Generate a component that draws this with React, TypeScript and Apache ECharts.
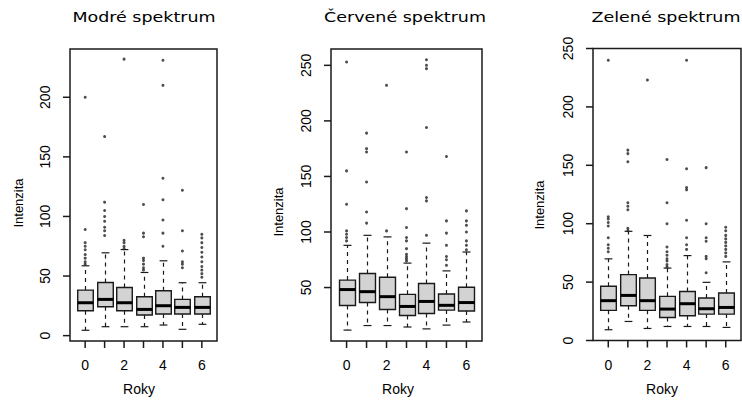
import React, { useEffect, useRef } from "react";
import * as echarts from "echarts";

// ---------- data ----------
const years = [0, 1, 2, 3, 4, 5, 6];
const xTickValues = [0, 1, 2, 3, 4, 5, 6];
const xLabelValues = [0, 2, 4, 6];

const titles = ["Modré spektrum", "Červené spektrum", "Zelené spektrum"];
const xAxisName = "Roky";
const yAxisName = "Intenzita";

// Modré spektrum
const blueLow = [4.5, 7.5, 7.5, 7.5, 8.9, 5.3, 9.5];
const blueQ1 = [20.9, 24.3, 20.9, 17.3, 18.1, 18.1, 18.1];
const blueMed = [27.6, 30.4, 27.6, 22.0, 25.1, 23.7, 23.7];
const blueQ3 = [38.2, 44.6, 40.4, 32.6, 37.7, 30.4, 32.6];
const blueHigh = [58.6, 69.5, 72.2, 53.0, 62.8, 44.4, 44.4];
const blueOutliers = [
  [60, 62, 65, 68, 72, 75, 78, 89, 200],
  [84, 88, 91, 96, 100, 105, 112, 167],
  [73, 75, 78, 80, 232],
  [55, 57, 60, 63, 65, 83, 86, 110],
  [75, 86, 97, 114, 132, 210, 231],
  [57, 60, 62, 71, 88, 122],
  [49, 52, 55, 58, 62, 66, 70, 74, 78, 82, 85],
];
const blueTicks = [0, 50, 100, 150, 200];

// Červené spektrum
const redLow = [11.7, 15.8, 15.8, 14.5, 12.8, 16.2, 19.0];
const redQ1 = [33.8, 36.6, 30.3, 24.8, 26.7, 29.7, 28.9];
const redMed = [48.2, 46.3, 41.8, 33.0, 37.5, 34.0, 36.5];
const redQ3 = [56.7, 62.7, 59.3, 43.9, 53.7, 44.2, 50.3];
const redHigh = [88, 97, 95.6, 72, 90, 65, 82];
const redOutliers = [
  [92, 95, 98, 101, 125, 155, 253],
  [108, 118, 145, 172, 175, 189],
  [101, 232],
  [74, 76, 78, 80, 85, 92, 95, 104, 121, 172],
  [97, 128, 131, 194, 247, 250, 255],
  [70, 75, 78, 88, 99, 110, 168],
  [84, 88, 92, 100, 106, 110, 119],
];
const redTicks = [50, 100, 150, 200, 250];

// Zelené spektrum
const greenLow = [9.2, 16.3, 10.3, 12.0, 12.0, 12.0, 11.2];
const greenQ1 = [25.8, 29.8, 25.8, 19.7, 21.2, 22.6, 22.6];
const greenMed = [34.1, 38.6, 34.1, 26.9, 31.5, 27.2, 28.3];
const greenQ3 = [46.4, 56.4, 53.5, 37.8, 42.0, 36.4, 40.7];
const greenHigh = [69.9, 93.5, 89.9, 62.0, 72.7, 49.8, 67.3];
const greenOutliers = [
  [76, 79, 82, 88, 98, 101, 104, 106, 240],
  [94, 96, 112, 115, 118, 153, 160, 163],
  [223],
  [63, 65, 68, 70, 73, 76, 80, 100, 118, 155],
  [78, 82, 88, 103, 129, 131, 147, 240],
  [58, 70, 72, 85, 88, 100, 148],
  [72, 75, 78, 81, 84, 87, 90, 94, 97],
];
const greenTicks = [0, 50, 100, 150, 200, 250];

// ---------- layout ----------
const X_MIN = -0.78;
const X_MAX = 6.78;
const TICK_LEN = 7;

// frame = plot box; the grid extends TICK_LEN px left of and below it to hold the tick marks
const panels = [
  {
    frame: { left: 70, top: 49, width: 147, height: 292 },
    yMin: -4.5, yMax: 240.5,
    low: blueLow, q1: blueQ1, med: blueMed, q3: blueQ3, high: blueHigh,
    outliers: blueOutliers, ticks: blueTicks,
    titleX: 144, xNameX: 139, yNameX: 18, yNameY: 203,
  },
  {
    frame: { left: 331, top: 49, width: 151, height: 292 },
    yMin: 1.9, yMax: 264.7,
    low: redLow, q1: redQ1, med: redMed, q3: redQ3, high: redHigh,
    outliers: redOutliers, ticks: redTicks,
    titleX: 405, xNameX: 398, yNameX: 278, yNameY: 212,
  },
  {
    frame: { left: 593, top: 48.5, width: 148, height: 292 },
    yMin: 0, yMax: 250,
    low: greenLow, q1: greenQ1, med: greenMed, q3: greenQ3, high: greenHigh,
    outliers: greenOutliers, ticks: greenTicks,
    titleX: 666, xNameX: 662, yNameX: 539, yNameY: 205,
  },
];

const FONT = "'Liberation Sans', Arial, sans-serif";
const LINE = "#1a1a1a";

function renderBox(params: any, api: any) {
  const x = api.value(0);
  const pLow = api.coord([x, api.value(1)]);
  const pQ1 = api.coord([x, api.value(2)]);
  const pMed = api.coord([x, api.value(3)]);
  const pQ3 = api.coord([x, api.value(4)]);
  const pHigh = api.coord([x, api.value(5)]);
  const hw = api.size([0.4, 0])[0];
  const cw = api.size([0.2, 0])[0];
  const cx = Math.round(pMed[0]) + 0.5;
  const solid = { stroke: LINE, lineWidth: 1.2, fill: null };
  const dashed = { stroke: LINE, lineWidth: 1.2, lineDash: [4, 4], fill: null };
  return {
    type: "group",
    children: [
      { type: "line", shape: { x1: cx, y1: pQ3[1], x2: cx, y2: pHigh[1] }, style: dashed },
      { type: "line", shape: { x1: cx, y1: pQ1[1], x2: cx, y2: pLow[1] }, style: dashed },
      { type: "line", shape: { x1: cx - cw, y1: pHigh[1], x2: cx + cw, y2: pHigh[1] }, style: solid },
      { type: "line", shape: { x1: cx - cw, y1: pLow[1], x2: cx + cw, y2: pLow[1] }, style: solid },
      {
        type: "rect",
        shape: { x: cx - hw, y: pQ3[1], width: 2 * hw, height: pQ1[1] - pQ3[1] },
        style: { fill: "#d3d3d3", stroke: LINE, lineWidth: 1.4 },
      },
      { type: "line", shape: { x1: cx - hw, y1: pMed[1], x2: cx + hw, y2: pMed[1] }, style: { stroke: "#000", lineWidth: 3 } },
    ],
  };
}

// plot frame from the axis extents [xMin, yMin, xMax, yMax]
function renderFrame(params: any, api: any) {
  const p1 = api.coord([api.value(0), api.value(1)]);
  const p2 = api.coord([api.value(2), api.value(3)]);
  return {
    type: "rect",
    shape: { x: p1[0], y: p2[1], width: p2[0] - p1[0], height: p1[1] - p2[1] },
    style: { fill: null, stroke: LINE, lineWidth: 1.5 },
  };
}

function renderYTick(params: any, api: any) {
  const pt = api.coord([api.value(0), api.value(1)]);
  return {
    type: "line",
    shape: { x1: pt[0], y1: pt[1], x2: pt[0] - TICK_LEN, y2: pt[1] },
    style: { stroke: LINE, lineWidth: 1.5, fill: null },
  };
}

function renderXTick(params: any, api: any) {
  const pt = api.coord([api.value(0), api.value(1)]);
  return {
    type: "line",
    shape: { x1: pt[0], y1: pt[1], x2: pt[0], y2: pt[1] + TICK_LEN },
    style: { stroke: LINE, lineWidth: 1.5, fill: null },
  };
}

export default function App() {
  const ref = useRef<HTMLDivElement>(null);
  useEffect(() => {
    if (!ref.current) return;
    const chart = echarts.init(ref.current, undefined, { renderer: "svg" });

    const grids: any[] = [];
    const xAxes: any[] = [];
    const yAxes: any[] = [];
    const series: any[] = [];
    const graphics: any[] = [];

    panels.forEach((p, i) => {
      const f = p.frame;
      const kx = (X_MAX - X_MIN) / f.width;
      const ky = (p.yMax - p.yMin) / f.height;
      grids.push({
        left: f.left - TICK_LEN, top: f.top,
        width: f.width + TICK_LEN, height: f.height + TICK_LEN,
        show: false, containLabel: false,
      });
      xAxes.push({
        type: "value", gridIndex: i, min: X_MIN - TICK_LEN * kx, max: X_MAX, position: "bottom",
        axisLine: { show: false, onZero: false },
        splitLine: { show: false },
        axisTick: { show: false },
        axisLabel: {
          customValues: xLabelValues, margin: 10, color: "#000",
          fontFamily: FONT, fontSize: 14,
        },
      });
      yAxes.push({
        type: "value", gridIndex: i, min: p.yMin - TICK_LEN * ky, max: p.yMax, position: "left",
        axisLine: { show: false, onZero: false },
        splitLine: { show: false },
        axisTick: { show: false },
        axisLabel: {
          customValues: p.ticks, rotate: 90, margin: 11, color: "#000",
          fontFamily: FONT, fontSize: 14,
        },
      });
      series.push({
        type: "custom", xAxisIndex: i, yAxisIndex: i,
        renderItem: renderFrame,
        encode: { x: [0, 2], y: [1, 3] },
        data: [[X_MIN, p.yMin, X_MAX, p.yMax]],
        z: 5,
      });
      series.push({
        type: "custom", xAxisIndex: i, yAxisIndex: i,
        renderItem: renderBox,
        encode: { x: 0, y: [1, 2, 3, 4, 5] },
        data: years.map((yr, j) => [yr, p.low[j], p.q1[j], p.med[j], p.q3[j], p.high[j]]),
        z: 2,
      });
      series.push({
        type: "custom", xAxisIndex: i, yAxisIndex: i,
        renderItem: renderYTick,
        encode: { x: 0, y: 1 },
        data: p.ticks.map((v) => [X_MIN, v]),
        z: 5,
      });
      series.push({
        type: "custom", xAxisIndex: i, yAxisIndex: i,
        renderItem: renderXTick,
        encode: { x: 0, y: 1 },
        data: xTickValues.map((v) => [v, p.yMin]),
        z: 5,
      });
      const pts: number[][] = [];
      years.forEach((yr, j) => p.outliers[j].forEach((v) => pts.push([yr, v])));
      series.push({
        type: "scatter", xAxisIndex: i, yAxisIndex: i,
        data: pts, symbol: "circle", symbolSize: 3,
        itemStyle: { color: "#222" }, z: 3,
      });
      graphics.push({
        type: "text", x: p.titleX, y: 17, scaleX: 1.25,
        style: { text: titles[i], fontFamily: "'DejaVu Sans', sans-serif", fontSize: 14, fill: "#000", textAlign: "center", textVerticalAlign: "middle" },
      });
      graphics.push({
        type: "text", x: p.xNameX, y: 389,
        style: { text: xAxisName, fontFamily: FONT, fontSize: 14, fill: "#000", textAlign: "center", textVerticalAlign: "middle" },
      });
      graphics.push({
        type: "text", x: p.yNameX, y: p.yNameY, rotation: Math.PI / 2,
        style: { text: yAxisName, fontFamily: FONT, fontSize: 13, fill: "#000", textAlign: "center", textVerticalAlign: "middle" },
      });
    });

    chart.setOption({
      animation: false,
      backgroundColor: "#fff",
      grid: grids,
      xAxis: xAxes,
      yAxis: yAxes,
      series,
      graphic: graphics,
    });

    return () => chart.dispose();
  }, []);
  return (
    <div
      ref={ref}
      style={{ position: "fixed", left: 0, top: 0, width: 742, height: 403 }}
    />
  );
}
